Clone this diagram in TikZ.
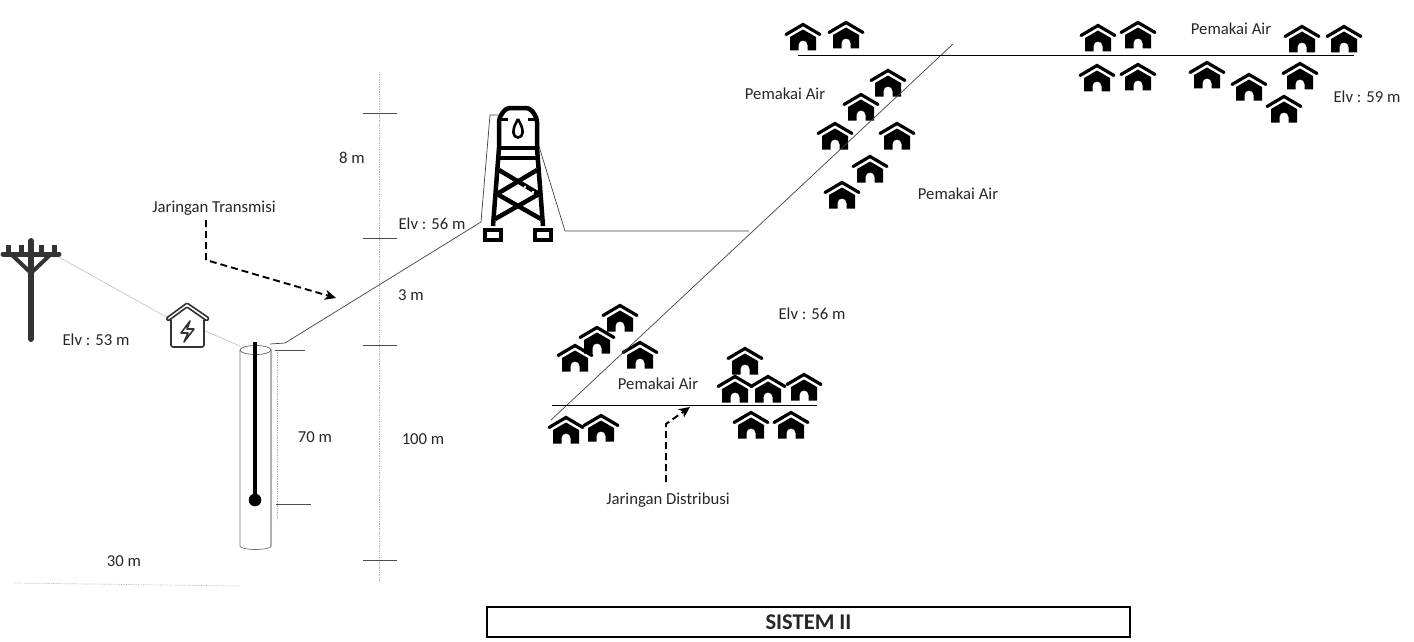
\documentclass[tikz,border=0pt]{standalone}
\usepackage{fontspec}
\setmainfont{Carlito}
\usetikzlibrary{arrows.meta}
\usetikzlibrary{positioning}
\tikzstyle{every node}+=[inner sep=0pt]
\tikzstyle{caption} = [font=\fontsize{16.7}{18}\selectfont, text=black!85]
\tikzstyle{pipe} = [draw, line width=0.7pt, black!75]
\tikzstyle{main} = [draw, line width=1pt, black]
\tikzstyle{faint} = [draw, line width=0.6pt, black!25]
\tikzstyle{tick} = [draw, line width=0.9pt, black!70]
\tikzstyle{guide} = [draw, line width=0.7pt, black!30, densely dotted]
\tikzstyle{flow} = [draw, line width=1.9pt, black, dash pattern=on 7pt off 4pt, -{Stealth[length=11pt,width=10pt,inset=3pt]}]
\tikzstyle{steel} = [draw, line width=4.5pt, black, line join=round]
\tikzset{
  house/.pic={
    \fill[black] (-13,0) -- (0,-7.5) -- (13,0) -- (13,13.5) -- (4.5,13.5) -- (4.5,8)
      arc[start angle=0, end angle=-180, radius=4.5] -- (-4.5,13.5) -- (-13,13.5) -- cycle;
    \draw[black, line width=3.2pt, line cap=round] (-17,-2.5) -- (0,-12.5) -- (17,-2.5);
  }
}
\begin{document}
\begin{tikzpicture}[x=1pt, y=-1pt]
  \useasboundingbox (0,0) rectangle (1414,642);
  % Place coordinates
  \coordinate (wireA) at (55,255);
  \coordinate (wireB) at (170,319);
  \coordinate (wireC) at (203,330);
  \coordinate (wellTop) at (240,346);
  \coordinate (pumpOut) at (270,344);
  \coordinate (pumpBend) at (285,343);
  \coordinate (towerIn) at (481,222);
  \coordinate (towerUp) at (490,115);
  \coordinate (towerTop) at (498,115);
  \coordinate (towerOut) at (538,143);
  \coordinate (towerBend) at (565,231);
  \coordinate (branch) at (749,231);
  \coordinate (diagLow) at (551,420);
  \coordinate (diagHigh) at (953,44);
  \coordinate (topLeft) at (798,56);
  \coordinate (topRight) at (1354,56);
  \coordinate (lowLeft) at (552,405);
  \coordinate (lowRight) at (817,405);
  \coordinate (transA) at (206,220);
  \coordinate (transB) at (206,260);
  \coordinate (transC) at (336,298);
  \coordinate (distA) at (666,482);
  \coordinate (distB) at (666,424);
  \coordinate (distC) at (690,407);
  \coordinate (scaleTop) at (379,72);
  \coordinate (scaleEnd) at (379,582);
  \coordinate (groundA) at (14,583);
  \coordinate (groundB) at (239,586);
  \coordinate (rodTop) at (255,342);
  \coordinate (rodEnd) at (255,500);
  % Place labels
  \node [caption] (transLabel) at (214,208) {Jaringan Transmisi};
  \node [caption] (distLabel) at (668,500) {Jaringan Distribusi};
  \node [caption] (dim8) at (352,158) {8 m};
  \node [caption] (dim3) at (411,295) {3 m};
  \node [caption] (dim70) at (315,437) {70 m};
  \node [caption] (dim100) at (423,439) {100 m};
  \node [caption] (dim30) at (124,561) {30 m};
  \node [caption] (elvPump) at (96,340) {Elv : 53 m};
  \node [caption] (elvTower) at (432,224) {Elv : 56 m};
  \node [caption] (elvLow) at (812,314) {Elv : 56 m};
  \node [caption] (elvHigh) at (1367,97) {Elv : 59 m};
  \node [caption] (userLow) at (658,384) {Pemakai Air};
  \node [caption] (userMid) at (785,94) {Pemakai Air};
  \node [caption] (userSide) at (958,194) {Pemakai Air};
  \node [caption] (userTop) at (1231,29) {Pemakai Air};
  \node [draw=black, line width=1.5pt, minimum width=643pt, minimum height=30pt,
    font=\fontsize{22.5}{24}\selectfont\bfseries, text=black!85] (title) at (808.5,622) {SISTEM II};
  % Draw houses
  \foreach \hx/\hy in {803/37, 846/35, 1098/38, 1138/35, 1097/78, 1138/77, 1302/39, 1344/39,
      1207/75, 1249/87, 1300/76, 1284/109, 888/83, 861/107, 835/136, 897/136, 870/169, 842/195,
      620/318, 597/340, 575/358, 640/355, 745/361, 735/389, 768/389, 804/387,
      566/430, 601/428, 751/425, 791/425}
    \pic at (\hx,\hy) {house};
  % Draw edges
  \path [faint] (wireA) -- (wireB);
  \path [faint] (wireC) -- (wellTop);
  \path [pipe] (pumpOut) -- (pumpBend) -- (towerIn) -- (towerUp) -- (towerTop);
  \path [pipe] (towerOut) -- (towerBend) -- (branch);
  \path [pipe] (diagLow) -- (diagHigh);
  \path [main] (topLeft) -- (topRight);
  \path [main] (lowLeft) -- (lowRight);
  \path [flow] (transA) -- (transB) -- (transC);
  \path [flow] (distA) -- (distB) -- (distC);
  % Scales
  \path [guide] (scaleTop) -- (scaleEnd);
  \path [guide] (277,350) -- (277,520);
  \path [guide] (groundA) -- (groundB);
  \foreach \ty in {113, 238, 345, 560}
    \path [tick] (363,\ty) -- (397,\ty);
  \path [tick] (275,350) -- (305,350);
  \path [tick] (276,504) -- (311,504);
  % Well
  \draw [line width=0.7pt, black!55] (240,350) -- (240,546) arc[start angle=180, end angle=0, x radius=15.5, y radius=3.5];
  \draw [line width=1.1pt, black!30] (271,546) -- (271,350);
  \draw [line width=0.7pt, black!60] (255.5,350) ellipse [x radius=15.5, y radius=4.5];
  \path [draw, line width=3.2pt, black] (rodTop) -- (rodEnd);
  \fill [black] (rodEnd) circle (6.3);
  % Power pole
  \begin{scope}[black!80]
    \fill (28,241) rectangle (34,339);
    \fill (31,241) circle (3);
    \fill (31,339) circle (3);
    \draw [line width=5pt, line cap=round] (3,254) -- (59,254);
    \draw [line width=4pt] (12,255) -- (31,273) -- (50,255);
    \foreach \ix in {8, 21, 41, 54}
      \fill (\ix-2.5,245) rectangle (\ix+2.5,253);
  \end{scope}
  % Power house
  \begin{scope}[black!80, line width=1.6pt, line join=round, line cap=round]
    \draw [rounded corners=1pt] (168,321) -- (166.5,318) -- (187,303) -- (209,318) -- (207,321) -- (187,307) -- cycle;
    \draw [rounded corners=2pt] (171,320) -- (171,347) -- (204,347) -- (204,320);
    \draw (190,321) -- (181,333) -- (188,333) -- (184,342) -- (194,329) -- (187,329) -- cycle;
  \end{scope}
  % Tower
  \path [steel, rounded corners=4pt] (499,148) -- (499,118) -- (506,108) -- (530,108) -- (537,118) -- (537,148);
  \path [steel] (499,148) -- (537,148);
  \path [steel] (499,158) -- (537,158);
  \path [steel] (499,148) -- (493,226);
  \path [steel] (537,148) -- (543,226);
  \path [steel] (499,170) -- (539,194) -- (495,219);
  \path [steel] (537,170) -- (497,194) -- (541,219);
  \draw [line width=3.6pt, black] (485,230) rectangle (501,240);
  \draw [line width=3.6pt, black] (535,230) rectangle (551,240);
  \draw [line width=3pt, black] (499,119) -- (508,119) (537,119) -- (528,119);
  \draw [line width=2.6pt, black] (518,119) .. controls (515,125) and (513,128) .. (513.5,133)
    arc[start angle=180, end angle=0, radius=4.5] .. controls (523,128) and (521,125) .. (518,119);
  \fill [white] (525,187) circle (1.4) (533,192) circle (1.4);
\end{tikzpicture}
\end{document}
